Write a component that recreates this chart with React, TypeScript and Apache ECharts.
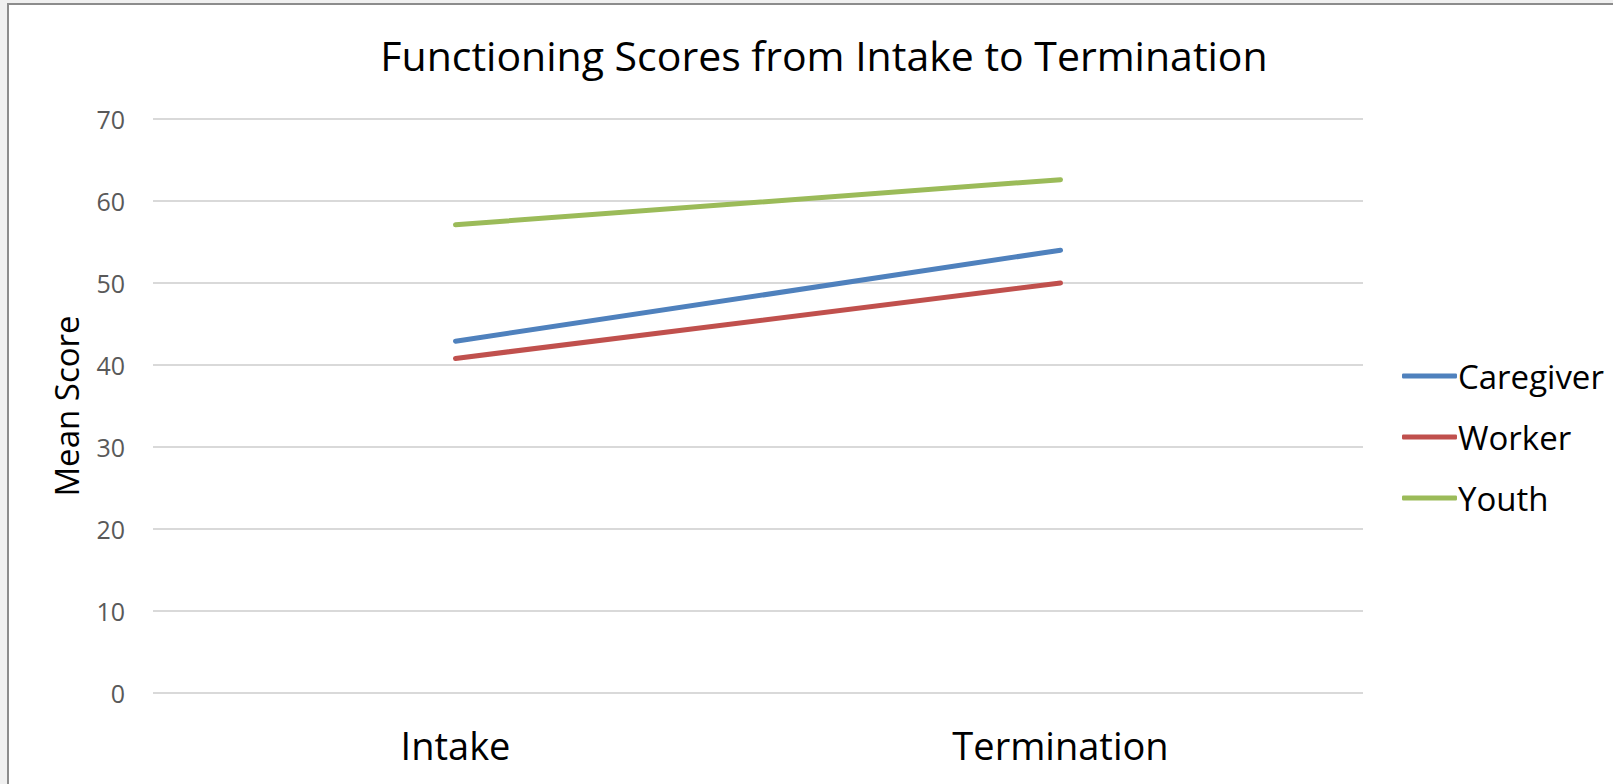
import React, { useEffect, useRef } from "react";
import * as echarts from "echarts";

const categories = ["Intake", "Termination"];
const caregiver = [42.9, 54.0];
const worker = [40.8, 50.0];
const youth = [57.1, 62.6];
const seriesNames = ["Caregiver", "Worker", "Youth"];
const colors = ["#4F81BD", "#C0504D", "#9BBB59"];

export default function App() {
  const ref = useRef<HTMLDivElement>(null);
  useEffect(() => {
    document.body.style.overflow = "hidden";
    const chart = echarts.init(ref.current!, null, { renderer: "svg" });
    const data = [caregiver, worker, youth];
    chart.setOption({
      animation: false,
      title: {
        text: "Functioning Scores from Intake to Termination",
        left: 810,
        top: 24,
        textAlign: "center",
        textStyle: { fontFamily: "Open Sans", fontSize: 41, fontWeight: "normal", color: "#000" },
      },
      grid: { left: 144, top: 114, width: 1210, height: 574, containLabel: false },
      legend: {
        orient: "vertical",
        left: 1388,
        top: 346,
        itemWidth: 55,
        itemHeight: 5,
        itemGap: 21,
        icon: "roundRect",
        data: seriesNames,
        textStyle: { fontFamily: "Open Sans", fontSize: 33, color: "#000", lineHeight: 40, padding: [0, 0, 0, -4] },
      },
      xAxis: {
        type: "category",
        data: categories,
        axisLine: { show: false },
        axisTick: { show: false },
        axisLabel: { fontFamily: "Open Sans", fontSize: 38, color: "#000", margin: 33 },
      },
      yAxis: {
        type: "value",
        min: 0,
        max: 70,
        interval: 10,
        name: "Mean Score",
        nameLocation: "middle",
        nameGap: 70,
        nameRotate: 90,
        nameTextStyle: { fontFamily: "Open Sans", fontSize: 33, color: "#000" },
        axisLine: { show: false },
        axisTick: { show: false },
        splitLine: { lineStyle: { color: "#D9D9D9", width: 2 } },
        axisLabel: { fontFamily: "Open Sans", fontSize: 25, color: "#595959", margin: 28 },
      },
      series: seriesNames.map((n, i) => ({
        name: n,
        type: "line",
        data: data[i],
        symbol: "none",
        color: colors[i],
        lineStyle: { width: 5, color: colors[i], cap: "round" },
      })),
    });
    return () => chart.dispose();
  }, []);
  return (
    <div style={{ position: "fixed", left: 0, top: 0, right: 0, bottom: 0, background: "#f0f0f0", overflow: "hidden" }}>
      <div
        style={{
          position: "absolute",
          left: 7,
          top: 3,
          right: 0,
          bottom: 0,
          borderLeft: "2px solid #8c8c8c",
          borderTop: "2px solid #8c8c8c",
          background: "#fff",
        }}
      >
        <div ref={ref} style={{ width: 1604, height: 779 }} />
      </div>
    </div>
  );
}
